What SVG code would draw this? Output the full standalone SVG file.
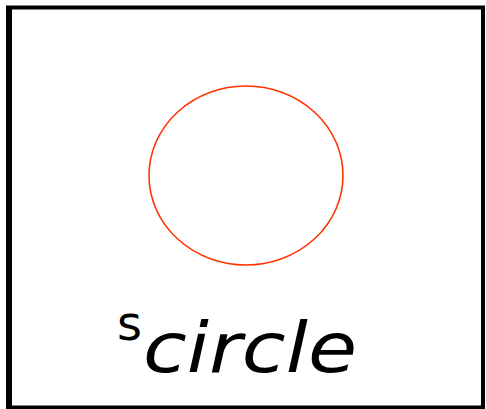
<svg xmlns="http://www.w3.org/2000/svg" width="486" height="409" viewBox="0 0 486 409">
<style>
.frame{fill:#fff;stroke:#000;stroke-width:4}
.shape{fill:none;stroke:#ff3300;stroke-width:1.6}
.lbl{font-family:"DejaVu Sans",sans-serif;fill:#000}
</style>
<rect width="486" height="409" fill="#fff"/>
<g id="frame">
<rect class="frame" x="8" y="7.5" width="475" height="400"/>
<line x1="9" y1="6" x2="9" y2="409" stroke="#000" stroke-width="6"/>
</g>
<g id="circle">
<ellipse class="shape" cx="246" cy="175.5" rx="97" ry="89.5"/>
</g>
<g id="label">
<text class="lbl" x="117" y="340" font-size="48">s</text>
<text class="lbl" x="143" y="372" font-size="70" font-style="oblique" textLength="214" lengthAdjust="spacingAndGlyphs">circle</text>
</g>
</svg>
